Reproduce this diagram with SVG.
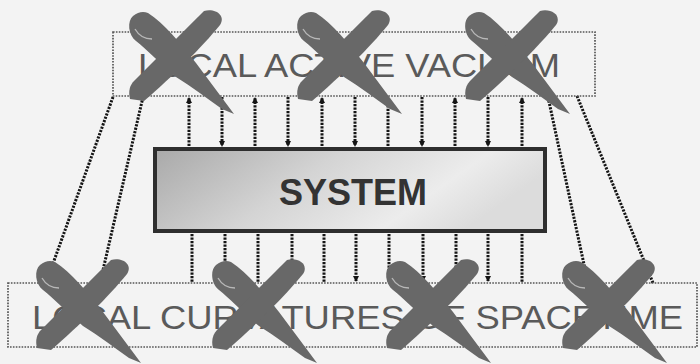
<svg xmlns="http://www.w3.org/2000/svg" width="700" height="364" viewBox="0 0 700 364">
<defs>
  <style>
    .lbl{font-family:"Liberation Sans",Arial,sans-serif;font-size:34px;fill:#5a5a5a}
    .sys{font-family:"Liberation Sans",Arial,sans-serif;font-size:36px;font-weight:bold;fill:#333}
    .box{fill:none;stroke:#555;stroke-width:1.7;stroke-dasharray:1.6 1.3}
    .dot{fill:none;stroke:#151515;stroke-width:3;stroke-dasharray:2.2 1.3}
    .xm{fill:#686868}
  </style>
  <linearGradient id="g" x1="0" y1="0" x2="1" y2="0.3">
    <stop offset="0" stop-color="#a9a9a9"/>
    <stop offset="0.45" stop-color="#d4d4d4"/>
    <stop offset="0.8" stop-color="#ececec"/>
    <stop offset="1" stop-color="#dcdcdc"/>
  </linearGradient>
  <marker id="ah" viewBox="0 0 6 6" refX="5" refY="3" markerWidth="6" markerHeight="6" markerUnits="userSpaceOnUse" orient="auto">
    <path d="M0,0 L6,3 L0,6 Z" fill="#151515"/>
  </marker>
  <g id="X">
    <path class="xm" d="M18,0 C34,10 50,30 66,50 L104,101 L92,96 C78,86 62,74 46,64 C32,52 16,36 6,28 C-2,22 -3,8 3,3 C8,-1 13,-2 18,0 Z"/>
    <path class="xm" d="M74,-2 C86,-5 96,3 90,12 C72,34 42,64 14,88 L0,86 C-2,78 0,72 4,68 C28,44 52,20 74,-2 Z"/>
    <path d="M5,16 C9,23 15,26 22,26" fill="none" stroke="#b8b8b8" stroke-width="1.3"/>
  </g>
</defs>
<rect width="700" height="364" fill="#f3f3f3"/>

<g id="connectors">
  <line class="dot" x1="113" y1="97" x2="46" y2="283"/>
  <line class="dot" x1="143" y1="97" x2="100" y2="283"/>
  <line class="dot" x1="548" y1="97" x2="588" y2="283"/>
  <line class="dot" x1="577" y1="96" x2="653" y2="283"/>
  <line class="dot" x1="189" y1="146" x2="189" y2="98" marker-end="url(#ah)"/>
  <line class="dot" x1="222" y1="97" x2="222" y2="146" marker-end="url(#ah)"/>
  <line class="dot" x1="255" y1="146" x2="255" y2="98" marker-end="url(#ah)"/>
  <line class="dot" x1="288" y1="97" x2="288" y2="146" marker-end="url(#ah)"/>
  <line class="dot" x1="322" y1="146" x2="322" y2="98" marker-end="url(#ah)"/>
  <line class="dot" x1="355" y1="97" x2="355" y2="146" marker-end="url(#ah)"/>
  <line class="dot" x1="388" y1="146" x2="388" y2="98" marker-end="url(#ah)"/>
  <line class="dot" x1="422" y1="97" x2="422" y2="146" marker-end="url(#ah)"/>
  <line class="dot" x1="455" y1="146" x2="455" y2="98" marker-end="url(#ah)"/>
  <line class="dot" x1="488" y1="97" x2="488" y2="146" marker-end="url(#ah)"/>
  <line class="dot" x1="522" y1="146" x2="522" y2="98" marker-end="url(#ah)"/>
  <line class="dot" x1="192" y1="234" x2="192" y2="283"/>
  <line class="dot" x1="225" y1="234" x2="225" y2="281" marker-end="url(#ah)"/>
  <line class="dot" x1="258" y1="234" x2="258" y2="283"/>
  <line class="dot" x1="292" y1="234" x2="292" y2="281" marker-end="url(#ah)"/>
  <line class="dot" x1="324" y1="234" x2="324" y2="283"/>
  <line class="dot" x1="356" y1="234" x2="356" y2="281" marker-end="url(#ah)"/>
  <line class="dot" x1="389" y1="234" x2="389" y2="283"/>
  <line class="dot" x1="423" y1="234" x2="423" y2="281" marker-end="url(#ah)"/>
  <line class="dot" x1="456" y1="234" x2="456" y2="283"/>
  <line class="dot" x1="488" y1="234" x2="488" y2="281" marker-end="url(#ah)"/>
  <line class="dot" x1="522" y1="234" x2="522" y2="283"/>
</g>

<g id="vacuum">
  <rect class="box" x="113" y="32" width="482" height="64" fill="#f3f3f3"/>
  <text class="lbl" x="138" y="77" textLength="422" lengthAdjust="spacingAndGlyphs">LOCAL ACTIVE VACUUM</text>
</g>

<g id="system">
  <rect x="155" y="149" width="390" height="82" fill="url(#g)" stroke="#2e2e2e" stroke-width="4"/>
  <text class="sys" x="353" y="205" text-anchor="middle">SYSTEM</text>
</g>

<g id="curvatures">
  <rect class="box" x="8" y="283" width="689" height="64" fill="#f3f3f3"/>
  <text class="lbl" x="32" y="329" textLength="651" lengthAdjust="spacingAndGlyphs">LOCAL CURVATURES OF SPACETIME</text>
</g>

<g id="crosses">
  <use href="#X" x="130" y="13"/>
  <use href="#X" x="298" y="13"/>
  <use href="#X" x="466" y="13"/>
  <use href="#X" x="37" y="262"/>
  <use href="#X" x="213" y="262"/>
  <use href="#X" x="387" y="262"/>
  <use href="#X" x="563" y="262"/>
</g>
</svg>
